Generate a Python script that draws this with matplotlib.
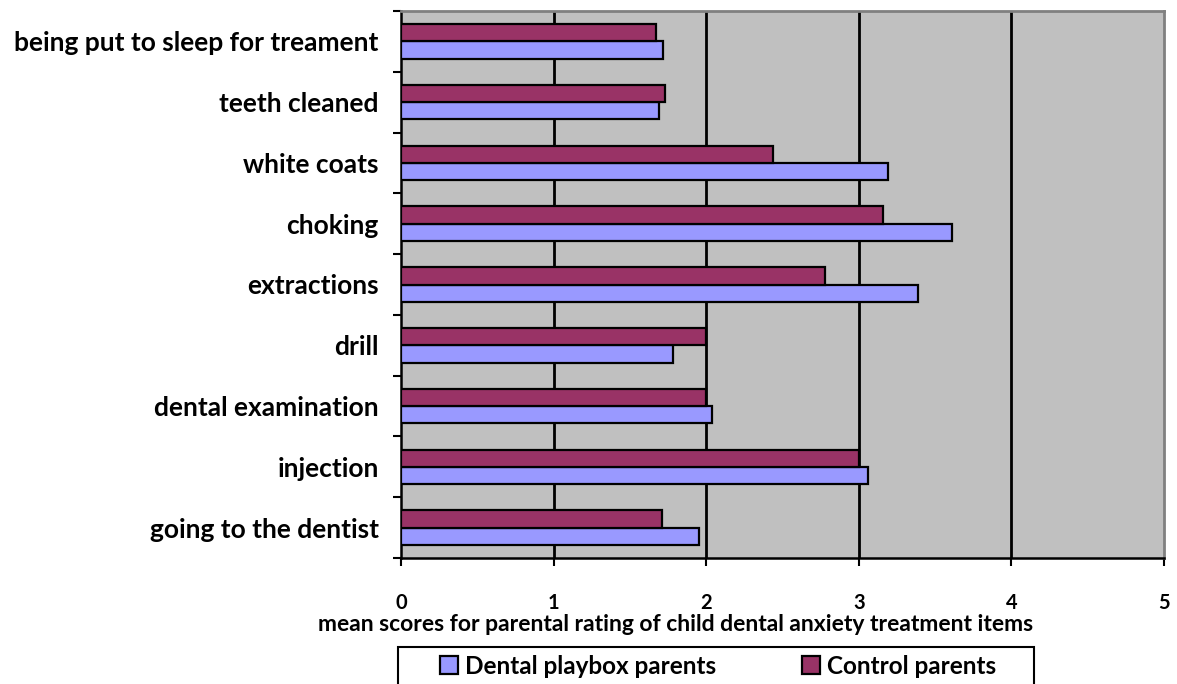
import matplotlib
matplotlib.use("Agg")
import matplotlib.pyplot as plt
from matplotlib.patches import Rectangle
import numpy as np

categories = [
    "going to the dentist",
    "injection",
    "dental examination",
    "drill",
    "extractions",
    "choking",
    "white coats",
    "teeth cleaned",
    "being put to sleep for treament",
]
playbox = [1.95, 3.06, 2.04, 1.78, 3.39, 3.61, 3.19, 1.69, 1.72]
control = [1.71, 3.00, 2.00, 2.00, 2.78, 3.16, 2.44, 1.73, 1.67]
series_names = ["Dental playbox parents", "Control parents"]
x_ticks = [0, 1, 2, 3, 4, 5]
x_label = "mean scores for parental rating of child dental anxiety treatment items"

plt.rcParams["font.family"] = ["Lato", "DejaVu Sans"]
plt.rcParams["font.weight"] = "bold"

W, H = 1177, 684
fig = plt.figure(figsize=(W / 100, H / 100), dpi=100)
ax_left, ax_right, ax_top, ax_bottom = 401, 1164, 11, 558
ax = fig.add_axes([ax_left / W, 1 - ax_bottom / H, (ax_right - ax_left) / W,
                   (ax_bottom - ax_top) / H])
ax.set_facecolor("#C0C0C0")

y = np.arange(len(categories))
h = 0.285
bars_p = ax.barh(y - h / 2, playbox, height=h, color="#9999FF", edgecolor="black",
                 linewidth=1.6, label=series_names[0], zorder=3)
bars_c = ax.barh(y + h / 2, control, height=h, color="#993366", edgecolor="black",
                 linewidth=1.6, label=series_names[1], zorder=3)

ax.set_xlim(0, 5)
ax.set_ylim(-0.5, len(categories) - 0.5)

for v in x_ticks[1:-1]:
    ax.axvline(v, color="black", linewidth=2, zorder=1)

ax.set_xticks(x_ticks)
ax.set_xticklabels([str(t) for t in x_ticks], fontsize=14.5, fontweight="bold")
ax.tick_params(axis="x", direction="out", length=6, width=1.5, pad=19)

# category boundaries get the tick marks, names sit between them
ax.set_yticks(np.arange(-0.5, len(categories), 1.0))
ax.set_yticklabels([])
ax.set_yticks(y, minor=True)
ax.set_yticklabels(categories, minor=True, fontsize=19, fontweight="bold")
ax.tick_params(axis="y", which="major", direction="out", length=6, width=1.5)
ax.tick_params(axis="y", which="minor", length=0, pad=16)

for side in ("left", "bottom"):
    ax.spines[side].set_color("black")
    ax.spines[side].set_linewidth(1.8)
for side in ("top", "right"):
    ax.spines[side].set_color("#808080")
    ax.spines[side].set_linewidth(2)

ax.set_xlabel(x_label, fontsize=16.5, fontweight="bold")
ax.xaxis.set_label_coords((676 - ax_left) / (ax_right - ax_left),
                          -(614 - ax_bottom) / (ax_bottom - ax_top))

# legend frame running off the bottom edge
fig.patches.append(Rectangle((398 / W, -0.05), (1034 - 398) / W, 0.05 + 1 - 647 / H,
                             transform=fig.transFigure, facecolor="white",
                             edgecolor="black", linewidth=1.5, zorder=0))
for bars, name, x0 in ((bars_p, series_names[0], 440), (bars_c, series_names[1], 802)):
    lg = fig.legend([bars], [name], loc="center left",
                    bbox_to_anchor=(x0 / W, 1 - 666 / H), frameon=False,
                    fontsize=17.5, handlelength=0.72, handleheight=0.72,
                    handletextpad=0.3, borderpad=0, borderaxespad=0)
    for t in lg.get_texts():
        t.set_fontweight("bold")

fig.savefig("out.png", dpi=100)
